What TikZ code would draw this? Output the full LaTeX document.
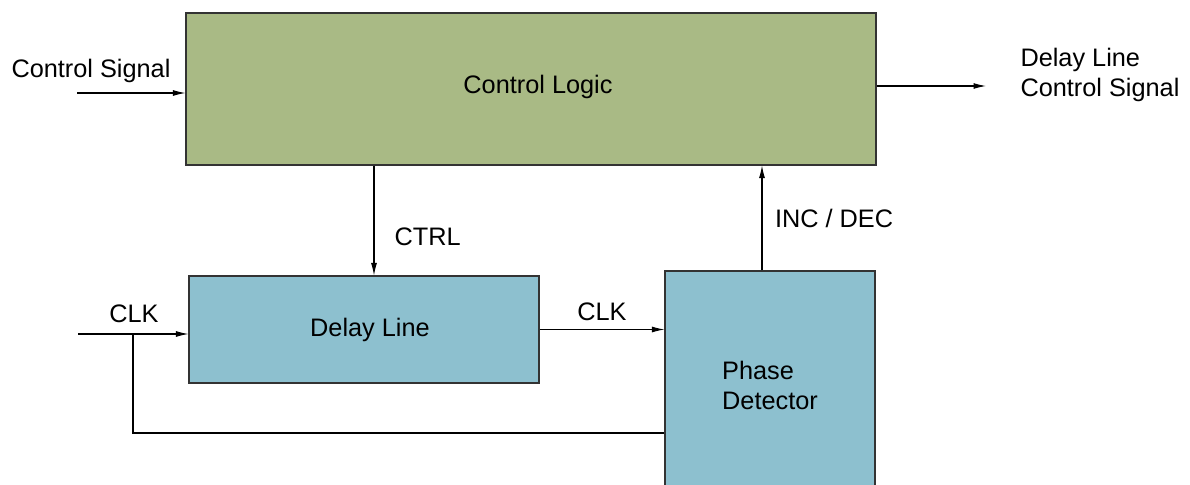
\documentclass[tikz,border=0pt]{standalone}
\usepackage{fontspec}
\setmainfont{Liberation Sans}
\usetikzlibrary{positioning, arrows.meta}
\definecolor{logicgreen}{HTML}{A9BA85}
\definecolor{lineblue}{HTML}{8DC0CF}
\begin{document}
\begin{tikzpicture}[line width=0.6pt, >={Latex[length=2.5mm,width=1.2mm]},
    font=\fontsize{14.4}{17.5}\selectfont,
    block/.style={draw=black!80, rectangle, inner sep=0pt},
    lbl/.style={inner sep=0pt}]
        \clip (0,0) rectangle (23.8,-9.7);

        \node[block, fill=logicgreen, minimum width=13.8cm, minimum height=3.04cm] (logic) at (10.62,-1.78) {\hspace{0.28cm}\raisebox{0.2cm}{Control Logic}};
        \node[block, fill=lineblue, minimum width=7cm, minimum height=2.14cm] (delay) at (7.28,-6.59) {\hspace{0.24cm}Delay Line};
        \node[block, fill=lineblue, minimum width=4.2cm, minimum height=4.58cm, align=left] (phase) at (15.4,-7.71) {Phase\\Detector};

        % inputs and outputs
        \coordinate (csin) at (1.54,-1.86);
        \coordinate (dlout) at (19.72,-1.72);
        \coordinate (clkin) at (1.56,-6.68);
        \coordinate (tap) at (2.66,-6.68);
        \node[lbl] (cslabel) at (1.82,-1.42) {Control Signal};
        \node[lbl, anchor=west, align=left] (dllabel) at (20.4,-1.5) {Delay Line\\Control Signal};

        \draw[->] (csin) -- (csin -| logic.west);
        \draw[->] (logic.east |- dlout) -- (dlout);

        \draw[->] (logic.south -| 7.48,0) -- node[lbl, right=0.4cm, pos=0.65] (ctrllabel) {CTRL} (delay.north -| 7.48,0);
        \draw[->] (phase.north -| 15.24,0) -- node[lbl, right=0.25cm, pos=0.5] (incdec) {INC / DEC} (logic.south -| 15.24,0);

        \draw[->] (clkin) -- (clkin -| delay.west);
        \node[lbl] (clkinlabel) at (2.68,-6.28) {CLK};
        \draw[->] (delay.east) -- node[lbl, above=0.17cm] (clkmid) {CLK} (delay.east -| phase.west);
        \draw (tap) -- (2.66,-8.66) -- (phase.west |- 0,-8.66);
\end{tikzpicture}
\end{document}
